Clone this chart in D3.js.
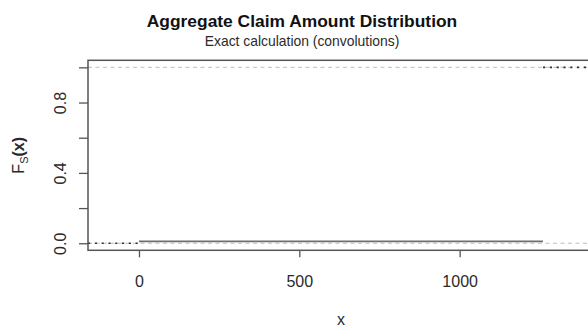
<!DOCTYPE html>
<html>
<head>
<meta charset="utf-8">
<script src="https://cdn.jsdelivr.net/npm/d3@7/dist/d3.min.js"></script>
<style>
  html, body { margin: 0; padding: 0; background: #fff; }
  svg { display: block; font-family: "Liberation Sans", Arial, sans-serif; }
</style>
</head>
<body>
<svg id="chart" width="588" height="327"></svg>
<script>
// Step function of the aggregate claim amount CDF
const knots = [0, 1260];            // jump points
const stepValues = [0, 0.011, 1];   // F_S(x) left of, between and right of the knots
const xTicks = [0, 500, 1000];
const yTicks = [0, 0.2, 0.4, 0.6, 0.8, 1.0];
const yTickLabels = ["0.0", "", "0.4", "", "0.8", ""];
const xDomain = [-159, 1419];
const yDomain = [-0.04, 1.04];
const refLines = [0, 1];

const svg = d3.select("#chart");
const plot = { left: 88, right: 594, top: 60.3, bottom: 250.3 };

const x = d3.scaleLinear().domain(xDomain).range([plot.left, plot.right]);
const y = d3.scaleLinear().domain(yDomain).range([plot.bottom, plot.top]);

const axisColor = "#555";
const textColor = "#2a2a2a";

// Reference lines at 0 and 1
svg.selectAll("line.ref").data(refLines).enter().append("line")
  .attr("class", "ref")
  .attr("x1", plot.left).attr("x2", plot.right)
  .attr("y1", d => y(d)).attr("y2", d => y(d))
  .attr("stroke", "#bdbdbd").attr("stroke-width", 1)
  .attr("stroke-dasharray", "4,3.5");

// Segments of the step function
const segs = stepValues.map((v, i) => ({
  x0: i === 0 ? xDomain[0] : knots[i - 1],
  x1: i === knots.length ? xDomain[1] : knots[i],
  v: v,
  outer: i === 0 || i === knots.length
}));

svg.selectAll("line.seg").data(segs).enter().append("line")
  .attr("class", "seg")
  .attr("x1", d => x(d.x0)).attr("x2", d => x(d.x1))
  .attr("y1", d => y(d.v)).attr("y2", d => y(d.v))
  .attr("stroke", d => d.outer ? "#333" : "#6e6e6e")
  .attr("stroke-width", 1.6)
  .attr("stroke-dasharray", d => d.outer ? "2.2,4.6" : null);

// Plot frame
svg.append("rect")
  .attr("x", plot.left).attr("y", plot.top)
  .attr("width", plot.right - plot.left).attr("height", plot.bottom - plot.top)
  .attr("fill", "none").attr("stroke", axisColor).attr("stroke-width", 1.5);

// X axis
const xAxis = svg.append("g").attr("transform", `translate(0,${plot.bottom})`)
  .call(d3.axisBottom(x).tickValues(xTicks).tickSize(7).tickPadding(18).tickFormat(d3.format("d")));
xAxis.select(".domain").remove();
xAxis.selectAll(".tick line").attr("stroke", axisColor).attr("stroke-width", 1.3);
xAxis.selectAll(".tick text").attr("font-size", 16).attr("fill", textColor)
  .attr("font-family", "Liberation Sans, Arial, sans-serif");

// Y axis
const yAxis = svg.append("g").attr("transform", `translate(${plot.left},0)`)
  .call(d3.axisLeft(y).tickValues(yTicks).tickSize(9).tickFormat((d, i) => yTickLabels[i]));
yAxis.select(".domain").remove();
yAxis.selectAll(".tick line").attr("stroke", axisColor).attr("stroke-width", 1.3);
yAxis.selectAll(".tick text")
  .attr("font-size", 16).attr("fill", textColor)
  .attr("font-family", "Liberation Sans, Arial, sans-serif")
  .attr("x", null).attr("dy", null)
  .attr("text-anchor", "middle")
  .attr("transform", "translate(-22,0) rotate(-90)");

// Titles
svg.append("text")
  .attr("x", 302).attr("y", 27)
  .attr("text-anchor", "middle")
  .attr("font-size", 17.4).attr("font-weight", "bold").attr("fill", "#111")
  .text("Aggregate Claim Amount Distribution");
svg.append("text")
  .attr("x", 302).attr("y", 46)
  .attr("text-anchor", "middle")
  .attr("font-size", 13.9).attr("fill", textColor)
  .text("Exact calculation (convolutions)");

// Axis titles
svg.append("text")
  .attr("x", (plot.left + plot.right) / 2).attr("y", 325)
  .attr("text-anchor", "middle")
  .attr("font-size", 16).attr("fill", textColor)
  .text("x");

const yl = svg.append("text")
  .attr("transform", `translate(24,${(plot.top + plot.bottom) / 2}) rotate(-90)`)
  .attr("text-anchor", "middle")
  .attr("font-size", 16).attr("fill", textColor);
yl.append("tspan").text("F");
yl.append("tspan").attr("font-size", 11).attr("dy", 4).text("S");
yl.append("tspan").attr("dy", -4).attr("font-weight", "bold").text("(x)");
</script>
</body>
</html>
